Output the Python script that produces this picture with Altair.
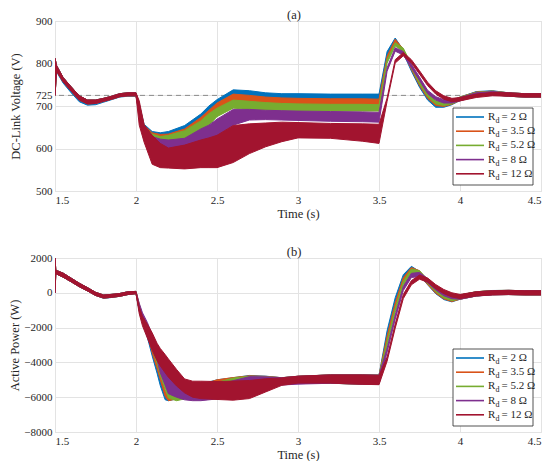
import altair as alt
import pandas as pd

SERIF = "Liberation Serif"
COLORS = ["#0072BD", "#D95319", "#77AC30", "#7E2F8E", "#A2142F"]
LABELS = ["= 2 Ω", "= 3.5 Ω", "= 5.2 Ω", "= 8 Ω", "= 12 Ω"]

# ---------------- panel (a): DC-link voltage ----------------
T1 = [1.5, 1.51, 1.55, 1.6, 1.65, 1.7, 1.75, 1.8, 1.85, 1.9, 1.95, 2.0,
      2.02, 2.05, 2.1, 2.15, 2.2, 2.3, 2.4, 2.45, 2.5, 2.6, 2.7, 2.8, 2.9, 3.0, 3.2, 3.4, 3.5,
      3.55, 3.6, 3.65, 3.7, 3.75, 3.8, 3.85, 3.9, 3.95, 4.0, 4.1, 4.2, 4.3, 4.4, 4.5]

V_blue_lo = [725, 780, 754, 731, 710, 702, 703, 709, 715, 721, 723, 723,
             688, 640, 622, 618, 620, 632, 660, 680, 697, 718, 716, 714, 714, 714, 714, 714, 714,
             820, 852, 824, 782, 744, 714, 697, 697, 703, 713, 726, 728, 723, 721, 721]
V_blue_hi = [812, 795, 767, 745, 724, 714, 714, 718, 723, 729, 731, 731,
             705, 657, 640, 637, 640, 654, 681, 700, 715, 738, 736, 731, 729, 729, 728, 728, 728,
             828, 860, 832, 790, 752, 722, 705, 705, 711, 721, 734, 736, 731, 729, 729]
V_orange_lo = [725, 782, 757, 735, 714, 705, 706, 711, 716, 722, 724, 724,
               685, 636, 618, 613, 614, 624, 648, 668, 688, 708, 706, 704, 703, 703, 703, 703, 703,
               809, 849, 826, 786, 748, 718, 701, 699, 704, 713, 725, 727, 723, 721, 721]
V_orange_hi = [812, 795, 767, 745, 724, 714, 714, 718, 723, 729, 731, 731,
               703, 655, 637, 633, 634, 646, 673, 690, 707, 728, 725, 721, 719, 718, 717, 717, 716,
               817, 857, 834, 794, 756, 726, 709, 707, 712, 721, 733, 735, 731, 729, 729]
V_green_lo = [725, 782, 757, 735, 714, 705, 706, 711, 716, 722, 724, 724,
              682, 632, 612, 606, 606, 614, 636, 655, 675, 695, 692, 690, 689, 688, 688, 688, 688,
              801, 841, 828, 790, 752, 722, 705, 701, 705, 713, 724, 727, 723, 721, 721]
V_green_hi = [812, 795, 767, 745, 724, 714, 714, 718, 723, 729, 731, 731,
              700, 652, 634, 628, 631, 642, 665, 682, 695, 714, 711, 708, 706, 705, 704, 704, 703,
              809, 849, 836, 798, 760, 730, 713, 709, 713, 721, 732, 735, 731, 729, 729]
V_purple_lo = [725, 782, 757, 735, 714, 705, 706, 711, 716, 722, 724, 724,
               678, 620, 595, 590, 590, 592, 602, 612, 630, 655, 667, 668, 667, 666, 664, 663, 662,
               782, 829, 820, 790, 760, 729, 714, 707, 707, 712, 723, 726, 723, 721, 721]
V_purple_hi = [812, 795, 767, 745, 724, 714, 714, 718, 723, 729, 731, 731,
               698, 650, 628, 622, 620, 624, 646, 655, 669, 692, 692, 690, 689, 688, 687, 686, 685,
               790, 837, 828, 798, 768, 737, 722, 715, 715, 720, 731, 734, 731, 729, 729]
V_red_lo = [725, 782, 757, 735, 714, 705, 706, 711, 716, 722, 724, 724,
            655, 615, 563, 555, 554, 552, 555, 555, 555, 567, 588, 604, 616, 625, 624, 617, 612,
            711, 801, 818, 801, 775, 748, 728, 716, 710, 712, 720, 724, 723, 721, 721]
V_red_hi = [812, 795, 767, 745, 724, 714, 714, 718, 723, 729, 731, 731,
            712, 656, 631, 612, 601, 608, 620, 625, 631, 654, 658, 660, 662, 661, 659, 658, 657,
            719, 809, 826, 809, 783, 756, 736, 724, 718, 720, 728, 732, 731, 729, 729]

V_REF = [725]
V_TICKS = [500, 600, 700, 725, 800, 900]

# ---------------- panel (b): active power ----------------
T2 = [1.5, 1.505, 1.55, 1.6, 1.65, 1.7, 1.75, 1.8, 1.85, 1.9, 1.95, 2.0,
      2.02, 2.04, 2.07, 2.1, 2.13, 2.15, 2.18, 2.2, 2.25, 2.3, 2.35, 2.4, 2.5, 2.6, 2.7, 2.8, 2.9,
      3.0, 3.2, 3.4, 3.5,
      3.55, 3.6, 3.65, 3.7, 3.75, 3.8, 3.85, 3.9, 3.95, 4.0, 4.1, 4.2, 4.3, 4.4, 4.5]

P_blue_lo = [0, 1100, 900, 630, 350, 110, -150, -320, -270, -200, -100, -50,
             -1050, -1650, -2550, -3630, -4620, -5340, -6150, -6200, -6100, -5950, -5750, -5550,
             -5300, -5150, -5000, -5050, -5100, -5150, -5200, -5250, -5250,
             -2415, -523, 802, 1280, 991, 461, -50, -390, -520, -371, -182, -107, -100, -120, -120]
P_blue_hi = [2000, 1300, 1130, 840, 550, 300, 30, -130, -90, -40, 60, 80,
             -750, -1350, -2250, -3330, -4320, -5040, -5850, -5900, -5800, -5650, -5450, -5250,
             -5000, -4880, -4750, -4790, -4880, -4800, -4720, -4720, -4730,
             -2175, -283, 1042, 1520, 1231, 701, 190, -150, -280, -131, 58, 133, 140, 120, 120]
P_orange_lo = [0, 1100, 900, 630, 350, 110, -150, -300, -260, -200, -100, -50,
               -1000, -1600, -2350, -3450, -4350, -5000, -5950, -6200, -6100, -6000, -5800, -5600,
               -5300, -5150, -5000, -5050, -5100, -5150, -5200, -5250, -5250,
               -2720, -820, 630, 1210, 1030, 480, -20, -350, -500, -370, -180, -110, -100, -120, -120]
P_orange_hi = [2000, 1300, 1130, 840, 550, 300, 30, -130, -90, -40, 60, 80,
               -700, -1300, -2050, -3150, -4050, -4700, -5650, -5900, -5800, -5700, -5500, -5300,
               -5000, -4870, -4770, -4800, -4880, -4800, -4720, -4720, -4730,
               -2480, -580, 870, 1450, 1270, 720, 220, -110, -260, -130, 60, 130, 140, 120, 120]
P_green_lo = [0, 1100, 900, 630, 350, 110, -150, -300, -260, -200, -100, -50,
              -950, -1550, -2250, -3250, -4050, -4750, -5550, -6050, -6200, -6100, -5950, -5750,
              -5450, -5200, -5050, -5050, -5100, -5150, -5200, -5250, -5250,
              -3020, -1120, 430, 1130, 1030, 530, 60, -300, -450, -360, -180, -110, -100, -120, -120]
P_green_hi = [2000, 1300, 1130, 840, 550, 300, 30, -130, -90, -40, 60, 80,
              -650, -1250, -1950, -2950, -3750, -4450, -5250, -5750, -5900, -5800, -5650, -5450,
              -5150, -4900, -4800, -4820, -4880, -4800, -4720, -4720, -4730,
              -2780, -880, 670, 1370, 1270, 770, 300, -60, -210, -120, 60, 130, 140, 120, 120]
P_purple_lo = [0, 1100, 900, 630, 350, 110, -150, -300, -260, -200, -100, -50,
               -1000, -1600, -2300, -3100, -3850, -4600, -5300, -5800, -6000, -6150, -6200, -6200,
               -6100, -5900, -5600, -5400, -5300, -5250, -5200, -5250, -5250,
               -3420, -1520, 130, 880, 930, 580, 160, -170, -340, -370, -190, -120, -100, -120, -120]
P_purple_hi = [2000, 1300, 1130, 840, 550, 300, 30, -130, -90, -40, 60, 80,
               -600, -1150, -1700, -2400, -3000, -3400, -3900, -4300, -4900, -5200, -5300, -5350,
               -5300, -5050, -4820, -4830, -4880, -4800, -4720, -4720, -4730,
               -3180, -1280, 370, 1120, 1170, 820, 400, 70, -100, -130, 50, 120, 140, 120, 120]
P_red_lo = [0, 1100, 900, 630, 350, 110, -150, -300, -260, -200, -100, -50,
            -1200, -1900, -2600, -3300, -3900, -4200, -4600, -4850, -5350, -5750, -6000, -6080,
            -6130, -6170, -6080, -5700, -5320, -5190, -5190, -5260, -5280,
            -3930, -2036, -334, 461, 780, 612, 234, -50, -239, -334, -182, -120, -100, -120, -120]
P_red_hi = [2000, 1300, 1130, 840, 550, 300, 30, -130, -90, -40, 60, 80,
            -800, -1350, -1800, -2300, -2900, -3200, -3550, -3800, -4400, -4950, -5080, -5080,
            -5100, -5076, -5040, -4940, -4890, -4790, -4720, -4720, -4750,
            -3690, -1796, -94, 701, 1020, 852, 474, 190, 1, -94, 58, 120, 140, 120, 120]

P_TICKS = [-8000, -6000, -4000, -2000, 0, 2000]
X_TICKS = [1.5, 2, 2.5, 3, 3.5, 4, 4.5]

W = 486


def make_axis(values, fmt, title_pad):
    return alt.Axis(values=values, format=fmt, grid=True, gridColor="#e3e3e3", gridWidth=1,
                    ticks=False, domain=False, labelFont=SERIF, labelFontSize=11,
                    titleFont=SERIF, titleFontSize=12.5, titleFontWeight="normal",
                    labelColor="#262626", titleColor="#262626", labelPadding=3,
                    titlePadding=title_pad, labelOverlap=False)


def panel(T, los, his, ydomain, yticks, ytitle, ttl, ypad, H, ref=None):
    layers = []
    yscale = alt.Scale(domain=ydomain, nice=False, zero=False)
    xenc = alt.X("t:Q", scale=alt.Scale(domain=[1.5, 4.5], nice=False, zero=False),
                 axis=make_axis(X_TICKS, "~g", 2), title="Time (s)")
    yaxis = make_axis(yticks, "d", ypad)
    if ref is not None:
        layers.append(alt.Chart(pd.DataFrame({"v": ref})).mark_rule(
            color="#8a8a8a", strokeDash=[5, 4], strokeWidth=1).encode(
            y=alt.Y("v:Q", scale=yscale, axis=yaxis, title=ytitle)))
    for lo, hi, c in zip(los, his, COLORS):
        df = pd.DataFrame({"t": T, "lo": lo, "hi": hi})
        layers.append(alt.Chart(df).mark_area(color=c, stroke=c, strokeWidth=1,
                                              opacity=1, clip=True).encode(
            x=xenc,
            y=alt.Y("lo:Q", scale=yscale, axis=yaxis, title=ytitle),
            y2="hi:Q"))
    dummy = pd.DataFrame({"k": [0]})
    # panel title "(a)" / "(b)" just above the plot
    layers.append(alt.Chart(dummy).mark_text(align="center", baseline="middle", font=SERIF,
                                             fontSize=12.5, color="#262626").encode(
        x=alt.value(W / 2 - 4), y=alt.value(-6.5), text=alt.value(ttl)))
    # legend box (inside the plot, lower right)
    by0, by1 = H - 83, H - 6
    layers.append(alt.Chart(dummy).mark_rect(fill="white", stroke="#262626",
                                             strokeWidth=0.8).encode(
        x=alt.value(398), x2=alt.value(478), y=alt.value(by0), y2=alt.value(by1)))
    for i, (lab, c) in enumerate(zip(LABELS, COLORS)):
        yy = by0 + 9 + 14.2 * i
        layers.append(alt.Chart(dummy).mark_rule(color=c, strokeWidth=1.6).encode(
            x=alt.value(401), x2=alt.value(429), y=alt.value(yy)))
        layers.append(alt.Chart(dummy).mark_text(align="left", baseline="middle", font=SERIF,
                                                 fontSize=11, color="#262626").encode(
            x=alt.value(433), y=alt.value(yy), text=alt.value("R")))
        layers.append(alt.Chart(dummy).mark_text(align="left", baseline="middle", font=SERIF,
                                                 fontSize=8, color="#262626").encode(
            x=alt.value(440.5), y=alt.value(yy + 4), text=alt.value("d")))
        layers.append(alt.Chart(dummy).mark_text(align="left", baseline="middle", font=SERIF,
                                                 fontSize=11, color="#262626").encode(
            x=alt.value(446.5), y=alt.value(yy), text=alt.value(lab)))
    return alt.layer(*layers).properties(width=W, height=H)


top = panel(T1,
            [V_blue_lo, V_orange_lo, V_green_lo, V_purple_lo, V_red_lo],
            [V_blue_hi, V_orange_hi, V_green_hi, V_purple_hi, V_red_hi],
            [500, 900], V_TICKS, "DC-Link Voltage (V)", "(a)", 13, 170, ref=V_REF)
bottom = panel(T2,
               [P_blue_lo, P_orange_lo, P_green_lo, P_purple_lo, P_red_lo],
               [P_blue_hi, P_orange_hi, P_green_hi, P_purple_hi, P_red_hi],
               [-8000, 2000], P_TICKS, "Active Power (W)", "(b)", 2, 174)

chart = alt.vconcat(top, bottom, spacing=25).properties(
    padding={"left": 0, "top": 0, "right": 0, "bottom": 0}
).configure_view(stroke="#404040", strokeWidth=1).configure_axis(
    labelFont=SERIF, titleFont=SERIF
).configure(background="white")

chart.save("out.html", embed_options={"renderer": "svg", "actions": False})
